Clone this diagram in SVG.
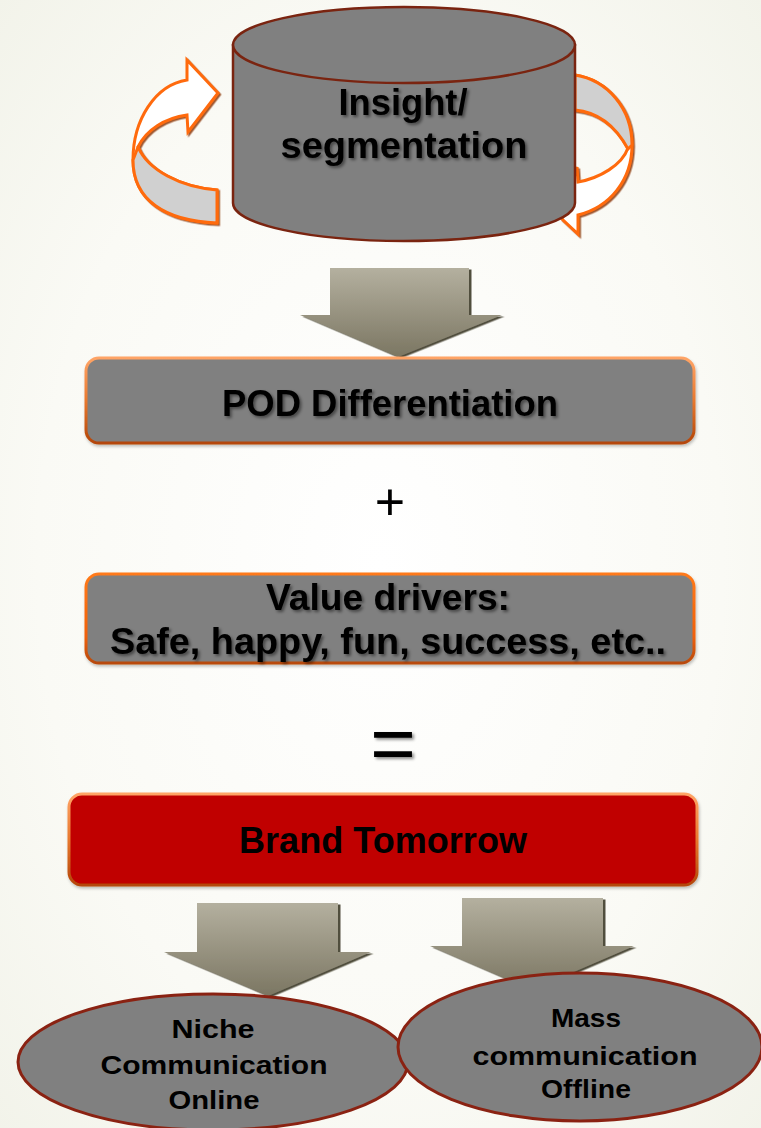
<svg xmlns="http://www.w3.org/2000/svg" width="761" height="1128" viewBox="0 0 761 1128">
  <defs>
    <radialGradient id="bg" cx="0.5" cy="0.5" r="0.75">
      <stop offset="0" stop-color="#ffffff"/>
      <stop offset="0.6" stop-color="#fafaf5"/>
      <stop offset="1" stop-color="#f1f2e8"/>
    </radialGradient>
    <linearGradient id="blockArrow" x1="0" y1="0" x2="0" y2="1">
      <stop offset="0" stop-color="#b4b09f"/>
      <stop offset="1" stop-color="#7b7662"/>
    </linearGradient>
    <linearGradient id="bevel" x1="0" y1="0" x2="0" y2="1">
      <stop offset="0" stop-color="#ffa466"/>
      <stop offset="0.5" stop-color="#e8782e"/>
      <stop offset="1" stop-color="#b44608"/>
    </linearGradient>
    <linearGradient id="bevelBright" x1="0" y1="0" x2="0" y2="1">
      <stop offset="0" stop-color="#ff7a1a"/>
      <stop offset="0.7" stop-color="#f06008"/>
      <stop offset="1" stop-color="#b84a0a"/>
    </linearGradient>
    <filter id="textShadow" x="-10%" y="-30%" width="120%" height="160%">
      <feDropShadow dx="2" dy="2" stdDeviation="1.8" flood-color="#000" flood-opacity="0.45"/>
    </filter>
    <filter id="arrowShadow" x="-10%" y="-10%" width="130%" height="130%">
      <feDropShadow dx="2.5" dy="1.5" stdDeviation="0.6" flood-color="#3e3a2c" flood-opacity="0.9"/>
    </filter>
    <filter id="ribbonShadow" x="-10%" y="-10%" width="130%" height="130%">
      <feDropShadow dx="1.5" dy="1.5" stdDeviation="0.5" flood-color="#8a3200" flood-opacity="0.8"/>
    </filter>
    <filter id="boxShadow" x="-5%" y="-10%" width="110%" height="130%">
      <feDropShadow dx="1" dy="2" stdDeviation="1.5" flood-color="#000" flood-opacity="0.25"/>
    </filter>
  </defs>
  <style>
    .lbl { font-family: "Liberation Sans", Arial, sans-serif; font-weight: bold; fill: #000; text-anchor: middle; }
    .big { font-size: 36px; }
    .small { font-size: 26px; }
    .op { font-family: "Liberation Sans", Arial, sans-serif; fill: #000; text-anchor: middle; }
    .block { fill: url(#blockArrow); filter: url(#arrowShadow); }
    .ribbon { fill: #ffffff; stroke: #ff6a0c; stroke-width: 3; stroke-linejoin: miter; filter: url(#ribbonShadow); }
    .ribbonBack { fill: #d0d0d0; stroke: #ff6a0c; stroke-width: 3; stroke-linejoin: round; }
    .drum { fill: #808080; stroke: #7a2410; stroke-width: 2.5; }
    .oval { fill: #808080; stroke: #8a2212; stroke-width: 3; }
  </style>

  <rect x="0" y="0" width="761" height="1128" fill="url(#bg)"/>

  <!-- cycle arrows around the drum -->
  <g id="cycle-left">
    <path class="ribbon" d="M187,80 L187,60 L218,93 L188,132 L187,115 C165,118 146,130 138,147 C148,170 180,187 217,190 L217,223 C165,221 133,200 133,160 C133,120 155,85 187,80 Z"/>
    <path class="ribbonBack" d="M138,147 C148,170 180,187 217,190 L217,223 C165,221 133,200 133,160 Z"/>
  </g>
  <g id="cycle-right">
    <path class="ribbon" d="M575,75 C607,80 632,108 632,145 C632,180 610,207 578,215 L578,234 L562,219 L577,167 L578,182 C600,178 622,165 628,148 C615,125 598,112 575,110 Z"/>
    <path class="ribbonBack" d="M575,75 C607,80 632,108 632,145 L628,149 C615,125 598,112 575,110 Z"/>
  </g>

  <!-- drum -->
  <g id="insight">
    <path class="drum" d="M233,45 L233,203 A171,38 0 0 0 575,203 L575,45 Z"/>
    <ellipse class="drum" cx="404" cy="45" rx="171" ry="38"/>
    <g filter="url(#textShadow)">
      <text class="lbl big" x="403" y="115" textLength="129" lengthAdjust="spacingAndGlyphs">Insight/</text>
      <text class="lbl big" x="404" y="158" textLength="247" lengthAdjust="spacingAndGlyphs">segmentation</text>
    </g>
  </g>

  <!-- connectors -->
  <g id="connectors">
    <polygon class="block" points="330,268 469,268 469,315 502,315 398,357 300,315 330,315"/>
    <polygon class="block" points="197,903 338,903 338,952 371,952 268,996 164,952 197,952"/>
    <polygon class="block" points="462,898 603,898 603,946 634,946 532,990 430,946 462,946"/>
  </g>

  <g id="pod">
    <rect x="86" y="358" width="608" height="85" rx="13" ry="13" fill="#808080" stroke="url(#bevel)" stroke-width="3" filter="url(#boxShadow)"/>
    <text class="lbl big" x="390" y="416" textLength="336" lengthAdjust="spacingAndGlyphs" filter="url(#textShadow)">POD Differentiation</text>
  </g>

  <g id="plus">
    <text class="op" x="390" y="520" font-size="52">+</text>
  </g>

  <g id="value-drivers">
    <rect x="86" y="574" width="608" height="89" rx="13" ry="13" fill="#808080" stroke="url(#bevelBright)" stroke-width="3" filter="url(#boxShadow)"/>
    <g filter="url(#textShadow)">
      <text class="lbl big" x="388" y="610" textLength="244" lengthAdjust="spacingAndGlyphs">Value drivers:</text>
      <text class="lbl big" x="388" y="654" textLength="556" lengthAdjust="spacingAndGlyphs">Safe, happy, fun, success, etc..</text>
    </g>
  </g>

  <g id="equals">
    <text class="op" x="393" y="770" font-size="78" filter="url(#textShadow)">=</text>
  </g>

  <g id="brand-tomorrow">
    <rect x="69" y="794" width="628" height="91" rx="13" ry="13" fill="#c00000" stroke="url(#bevel)" stroke-width="3" filter="url(#boxShadow)"/>
    <text class="lbl big" x="383" y="853" textLength="288" lengthAdjust="spacingAndGlyphs">Brand Tomorrow</text>
  </g>

  <g id="niche">
    <ellipse class="oval" cx="213" cy="1062" rx="195" ry="68"/>
    <text class="lbl small" x="213" y="1038" textLength="83" lengthAdjust="spacingAndGlyphs">Niche</text>
    <text class="lbl small" x="214" y="1074" textLength="227" lengthAdjust="spacingAndGlyphs">Communication</text>
    <text class="lbl small" x="214" y="1109" textLength="91" lengthAdjust="spacingAndGlyphs">Online</text>
  </g>

  <g id="mass">
    <ellipse class="oval" cx="580" cy="1047" rx="182" ry="74"/>
    <text class="lbl small" x="586" y="1027" textLength="70" lengthAdjust="spacingAndGlyphs">Mass</text>
    <text class="lbl small" x="585" y="1065" textLength="225" lengthAdjust="spacingAndGlyphs">communication</text>
    <text class="lbl small" x="586" y="1098" textLength="90" lengthAdjust="spacingAndGlyphs">Offline</text>
  </g>
</svg>
